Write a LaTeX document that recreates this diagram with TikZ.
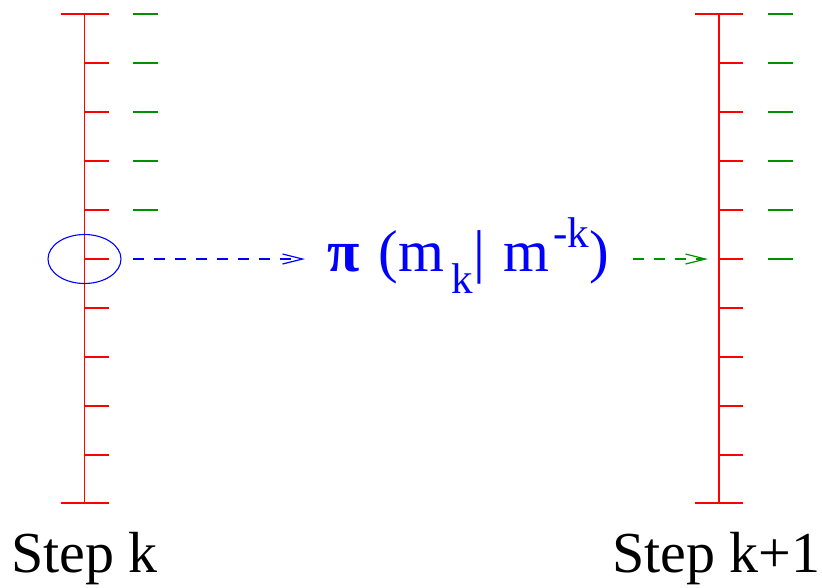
\documentclass[tikz,border=0pt]{standalone}
\usepackage{fontspec}
\setmainfont{Liberation Serif}
\usetikzlibrary{arrows.meta}
\definecolor{figgreen}{RGB}{0,144,0}

\tikzset{
  axisline/.style={red, line width=1.2pt},
  greendash/.style={figgreen, line width=1.2pt},
  flowarrow/.style={line width=1.2pt, dash pattern=on 11pt off 10pt, -{Straight Barb[length=20pt, width=10pt]}},
  steplabel/.style={anchor=base west, inner sep=0pt, font=\fontsize{58}{64}\selectfont}
}
\newcommand{\smalltxt}[1]{{\fontsize{43}{48}\selectfont #1}}

\begin{document}
\begin{tikzpicture}[x=1pt, y=-1pt]
  \useasboundingbox (0,0) rectangle (822,587);
  % left axis (step k)
  \begin{scope}[shift={(84.5,0)}]
    \draw[axisline] (0,14) -- (0,503);
    \draw[axisline] (-24,14) -- (24,14);
    \draw[axisline] (-24,503) -- (24,503);
    \foreach \y in {63,112,161,210,259,308,357,406,455}
      \draw[axisline] (0,\y) -- (24,\y);
    \foreach \y in {14,63,112,161,210}
      \draw[greendash] (48.5,\y) -- (73.5,\y);
    \draw[blue, line width=1.1pt] (0,259) ellipse (36.5 and 24.5);
    \coordinate (srcL) at (48.5,259);
  \end{scope}
  % right axis (step k+1)
  \begin{scope}[shift={(719,0)}]
    \draw[axisline] (0,14) -- (0,503);
    \draw[axisline] (-24,14) -- (24,14);
    \draw[axisline] (-24,503) -- (24,503);
    \foreach \y in {63,112,161,210,259,308,357,406,455}
      \draw[axisline] (0,\y) -- (24,\y);
    \foreach \y in {14,63,112,161,210,259}
      \draw[greendash] (49,\y) -- (74,\y);
    \coordinate (dstR) at (-11,259);
  \end{scope}
  % conditional label
  \node[blue, anchor=base west, inner sep=0pt, font=\fontsize{59}{66}\selectfont] (cond) at (327,271)
    {\textbf{π}\hspace{19pt}(m\hspace{7pt}\raisebox{-22pt}{\smalltxt{k}}\hspace{1pt}|\hspace{18pt}m\hspace{4pt}\raisebox{24pt}{\smalltxt{-k}})};
  \coordinate (tipL) at (305,259);
  \coordinate (srcR) at (633,259);
  \draw[flowarrow, blue] (srcL) -- (tipL);
  \draw[flowarrow, figgreen] (srcR) -- (dstR);
  % step labels
  \node[steplabel] (stepk) at (11,572) {Step k};
  \node[steplabel] (stepk1) at (612,572) {Step k+1};
\end{tikzpicture}
\end{document}
